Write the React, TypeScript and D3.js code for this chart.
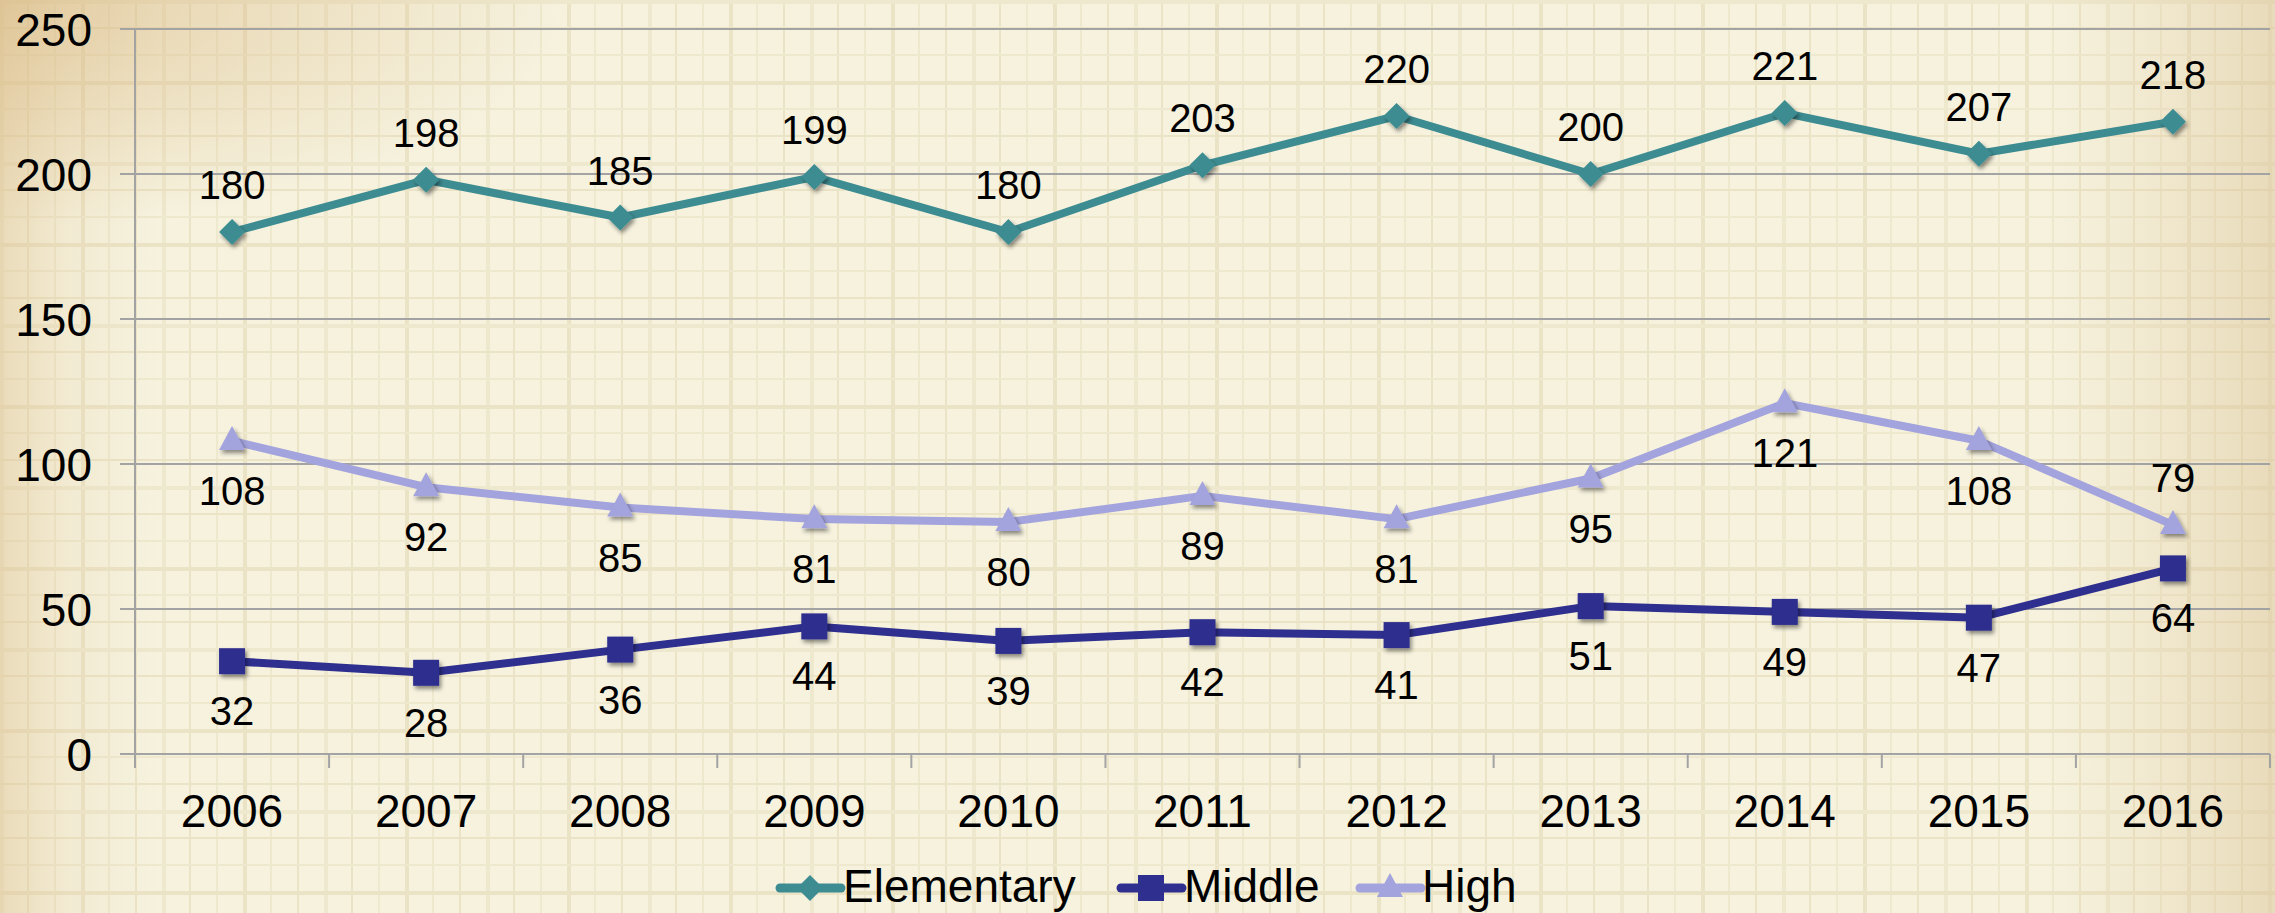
import React from "react";
import * as d3 from "d3";

const years = ["2006", "2007", "2008", "2009", "2010", "2011", "2012", "2013", "2014", "2015", "2016"];
const elementary = [180, 198, 185, 199, 180, 203, 220, 200, 221, 207, 218];
const middle = [32, 28, 36, 44, 39, 42, 41, 51, 49, 47, 64];
const high = [108, 92, 85, 81, 80, 89, 81, 95, 121, 108, 79];
const yTicks = [0, 50, 100, 150, 200, 250];
const seriesNames = ["Elementary", "Middle", "High"];
// label placement: "a" above, "b" below
const elementaryPos = ["a", "a", "a", "a", "a", "a", "a", "a", "a", "a", "a"];
const middlePos = ["b", "b", "b", "b", "b", "b", "b", "b", "b", "b", "b"];
const highPos = ["b", "b", "b", "b", "b", "b", "b", "b", "b", "b", "a"];

const W = 2275;
const H = 913;
const FONT = "'Liberation Sans', Arial, sans-serif";

const colors = ["#3D8C91", "#2E2F8E", "#A3A3DD"];
const shapes = ["diamond", "square", "triangle"];

function Marker({ shape, x, y, color }: { shape: string; x: number; y: number; color: string }) {
  if (shape === "diamond") {
    const r = 13;
    return <path d={`M${x},${y - r}L${x + r},${y}L${x},${y + r}L${x - r},${y}Z`} fill={color} />;
  }
  if (shape === "square") {
    const s = 13;
    return <rect x={x - s} y={y - s} width={2 * s} height={2 * s} fill={color} />;
  }
  const h = 24;
  const w = 26;
  return <path d={`M${x},${y - h * 0.62}L${x + w / 2},${y + h * 0.38}L${x - w / 2},${y + h * 0.38}Z`} fill={color} />;
}

export default function App() {
  const x = d3.scaleBand<string>().domain(years).range([135, 2270]).padding(0);
  const y = d3.scaleLinear().domain([0, 250]).range([754, 29]);
  const cx = (yr: string) => (x(yr) as number) + x.bandwidth() / 2;

  const series = [
    { name: seriesNames[0], values: elementary, pos: elementaryPos },
    { name: seriesNames[1], values: middle, pos: middlePos },
    { name: seriesNames[2], values: high, pos: highPos },
  ];

  const line = d3
    .line<number>()
    .x((_, i) => cx(years[i]))
    .y((v) => y(v));

  const texV = d3.range(0, W, 27);
  const texH = d3.range(0, H, 27);

  const legendItems = [
    { x0: 780, tx: 843 },
    { x0: 1121, tx: 1184 },
    { x0: 1360, tx: 1422 },
  ];

  return (
    <svg
      width={W}
      height={H}
      style={{ position: "absolute", left: 0, top: 0, display: "block" }}
      fontFamily={FONT}
    >
      <defs>
        <linearGradient id="vigH" x1="0" x2="1" y1="0" y2="0">
          <stop offset="0" stopColor="#dcc08e" stopOpacity="0.45" />
          <stop offset="0.03" stopColor="#dcc08e" stopOpacity="0.15" />
          <stop offset="0.07" stopColor="#e0c89a" stopOpacity="0" />
          <stop offset="0.9" stopColor="#e0c89a" stopOpacity="0" />
          <stop offset="1" stopColor="#d8bf90" stopOpacity="0.45" />
        </linearGradient>
        <radialGradient id="corner" cx="0" cy="0" r="0.25">
          <stop offset="0" stopColor="#d9b882" stopOpacity="0.6" />
          <stop offset="1" stopColor="#d9b882" stopOpacity="0" />
        </radialGradient>
        <filter id="shadow" x="-50%" y="-50%" width="200%" height="200%">
          <feDropShadow dx="2" dy="3" stdDeviation="2" floodColor="#000" floodOpacity="0.45" />
        </filter>
      </defs>

      {/* background */}
      <rect x={0} y={0} width={W} height={H} fill="#f6f2de" />
      <g opacity={0.5}>
        {texV.map((v, i) => (
          <rect key={"tv" + i} x={v} y={0} width={i % 3 === 0 ? 4 : 2} height={H} fill={i % 2 ? "#e2d6b0" : "#e8dfbf"} />
        ))}
        {texH.map((v, i) => (
          <rect key={"th" + i} x={0} y={v} width={W} height={i % 3 === 0 ? 4 : 2} fill={i % 2 ? "#e2d6b0" : "#e8dfbf"} />
        ))}
      </g>
      <rect x={0} y={0} width={W} height={H} fill="url(#vigH)" />
      <rect x={0} y={0} width={W} height={H} fill="url(#corner)" />

      {/* gridlines */}
      {yTicks.map((t) => (
        <line key={"g" + t} x1={120} x2={2270} y1={y(t)} y2={y(t)} stroke="#a3a3a3" strokeWidth={2} />
      ))}
      {/* y axis */}
      <line x1={135} x2={135} y1={y(250)} y2={768} stroke="#a3a3a3" strokeWidth={2} />
      {/* x ticks */}
      {years.map((yr) => (
        <line key={"xt" + yr} x1={x(yr) as number} x2={x(yr) as number} y1={754} y2={768} stroke="#a3a3a3" strokeWidth={2} />
      ))}
      <line x1={2270} x2={2270} y1={754} y2={768} stroke="#a3a3a3" strokeWidth={2} />

      {/* y tick labels */}
      {yTicks.map((t) => (
        <text key={"yl" + t} x={92} y={y(t)} dy="0.36em" textAnchor="end" fontSize={46} fill="#000">
          {t}
        </text>
      ))}
      {/* x tick labels */}
      {years.map((yr) => (
        <text key={"xl" + yr} x={cx(yr)} y={827} textAnchor="middle" fontSize={46} fill="#000">
          {yr}
        </text>
      ))}

      {/* series */}
      {series.map((s, si) => (
        <g key={s.name}>
          <path d={line(s.values) as string} fill="none" stroke={colors[si]} strokeWidth={8} strokeLinejoin="round" />
          <g filter="url(#shadow)">
            {s.values.map((v, i) => (
              <Marker key={i} shape={shapes[si]} x={cx(years[i])} y={y(v)} color={colors[si]} />
            ))}
          </g>
        </g>
      ))}

      {/* data labels */}
      {series.map((s) =>
        s.values.map((v, i) => (
          <text
            key={s.name + "l" + i}
            x={cx(years[i])}
            y={y(v) + (s.pos[i] === "a" ? -33 : 64)}
            textAnchor="middle"
            fontSize={40}
            fill="#000"
          >
            {v}
          </text>
        ))
      )}

      {/* legend */}
      {series.map((s, si) => {
        const it = legendItems[si];
        const ly = 888;
        return (
          <g key={"lg" + s.name}>
            <line x1={it.x0} x2={it.x0 + 61} y1={ly} y2={ly} stroke={colors[si]} strokeWidth={9} strokeLinecap="round" />
            <Marker shape={shapes[si]} x={it.x0 + 30} y={ly} color={colors[si]} />
            <text x={it.tx} y={902} fontSize={46} fill="#000">
              {s.name}
            </text>
          </g>
        );
      })}
    </svg>
  );
}
